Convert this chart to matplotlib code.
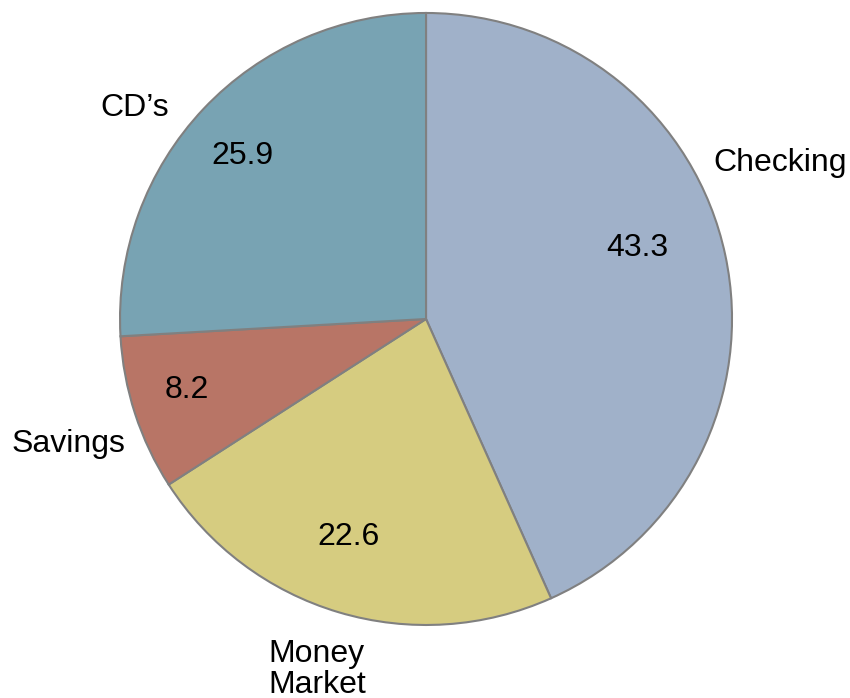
import matplotlib
matplotlib.use("Agg")
import matplotlib.pyplot as plt

categories = ["Checking", "Money\nMarket", "Savings", "CD\u2019s"]
values = [43.3, 22.6, 8.2, 25.9]
value_labels = ["43.3", "22.6", "8.2", "25.9"]
colors = ["#A0B1C9", "#D6CC80", "#B87566", "#78A3B3"]

# label placement offsets (in pie-radius units)
label_pos = [(1.157, 0.51), (-0.516, -1.145), (-1.167, -0.408), (-0.951, 0.69)]
label_ha = ["center", "left", "center", "center"]
value_pos = [(0.69, 0.232), (-0.252, -0.712), (-0.781, -0.232), (-0.601, 0.533)]

plt.rcParams["font.family"] = ["Liberation Sans", "DejaVu Sans"]

fig = plt.figure(figsize=(8.5, 6.98), dpi=100)
ax = fig.add_axes([0.1412, 0.1046, 0.72, 0.8768])

wedges, texts, autotexts = ax.pie(
    values, labels=categories, colors=colors, startangle=90, counterclock=False,
    autopct=lambda p: "", radius=1.0,
    wedgeprops=dict(edgecolor="#808080", linewidth=1.5),
    textprops=dict(fontsize=23, color="black"),
)
for t, (x, y), ha in zip(texts, label_pos, label_ha):
    t.set_position((x, y))
    t.set_ha(ha)
    t.set_va("center")
    t.set_multialignment("left")
    t.set_linespacing(1.05)
for t, s, (x, y) in zip(autotexts, value_labels, value_pos):
    t.set_text(s)
    t.set_position((x, y))
    t.set_ha("center")
    t.set_va("center")

ax.set_xlim(-1, 1)
ax.set_ylim(-1, 1)
ax.set_aspect("equal")
ax.axis("off")

fig.savefig("out.png", dpi=100, facecolor="white")
